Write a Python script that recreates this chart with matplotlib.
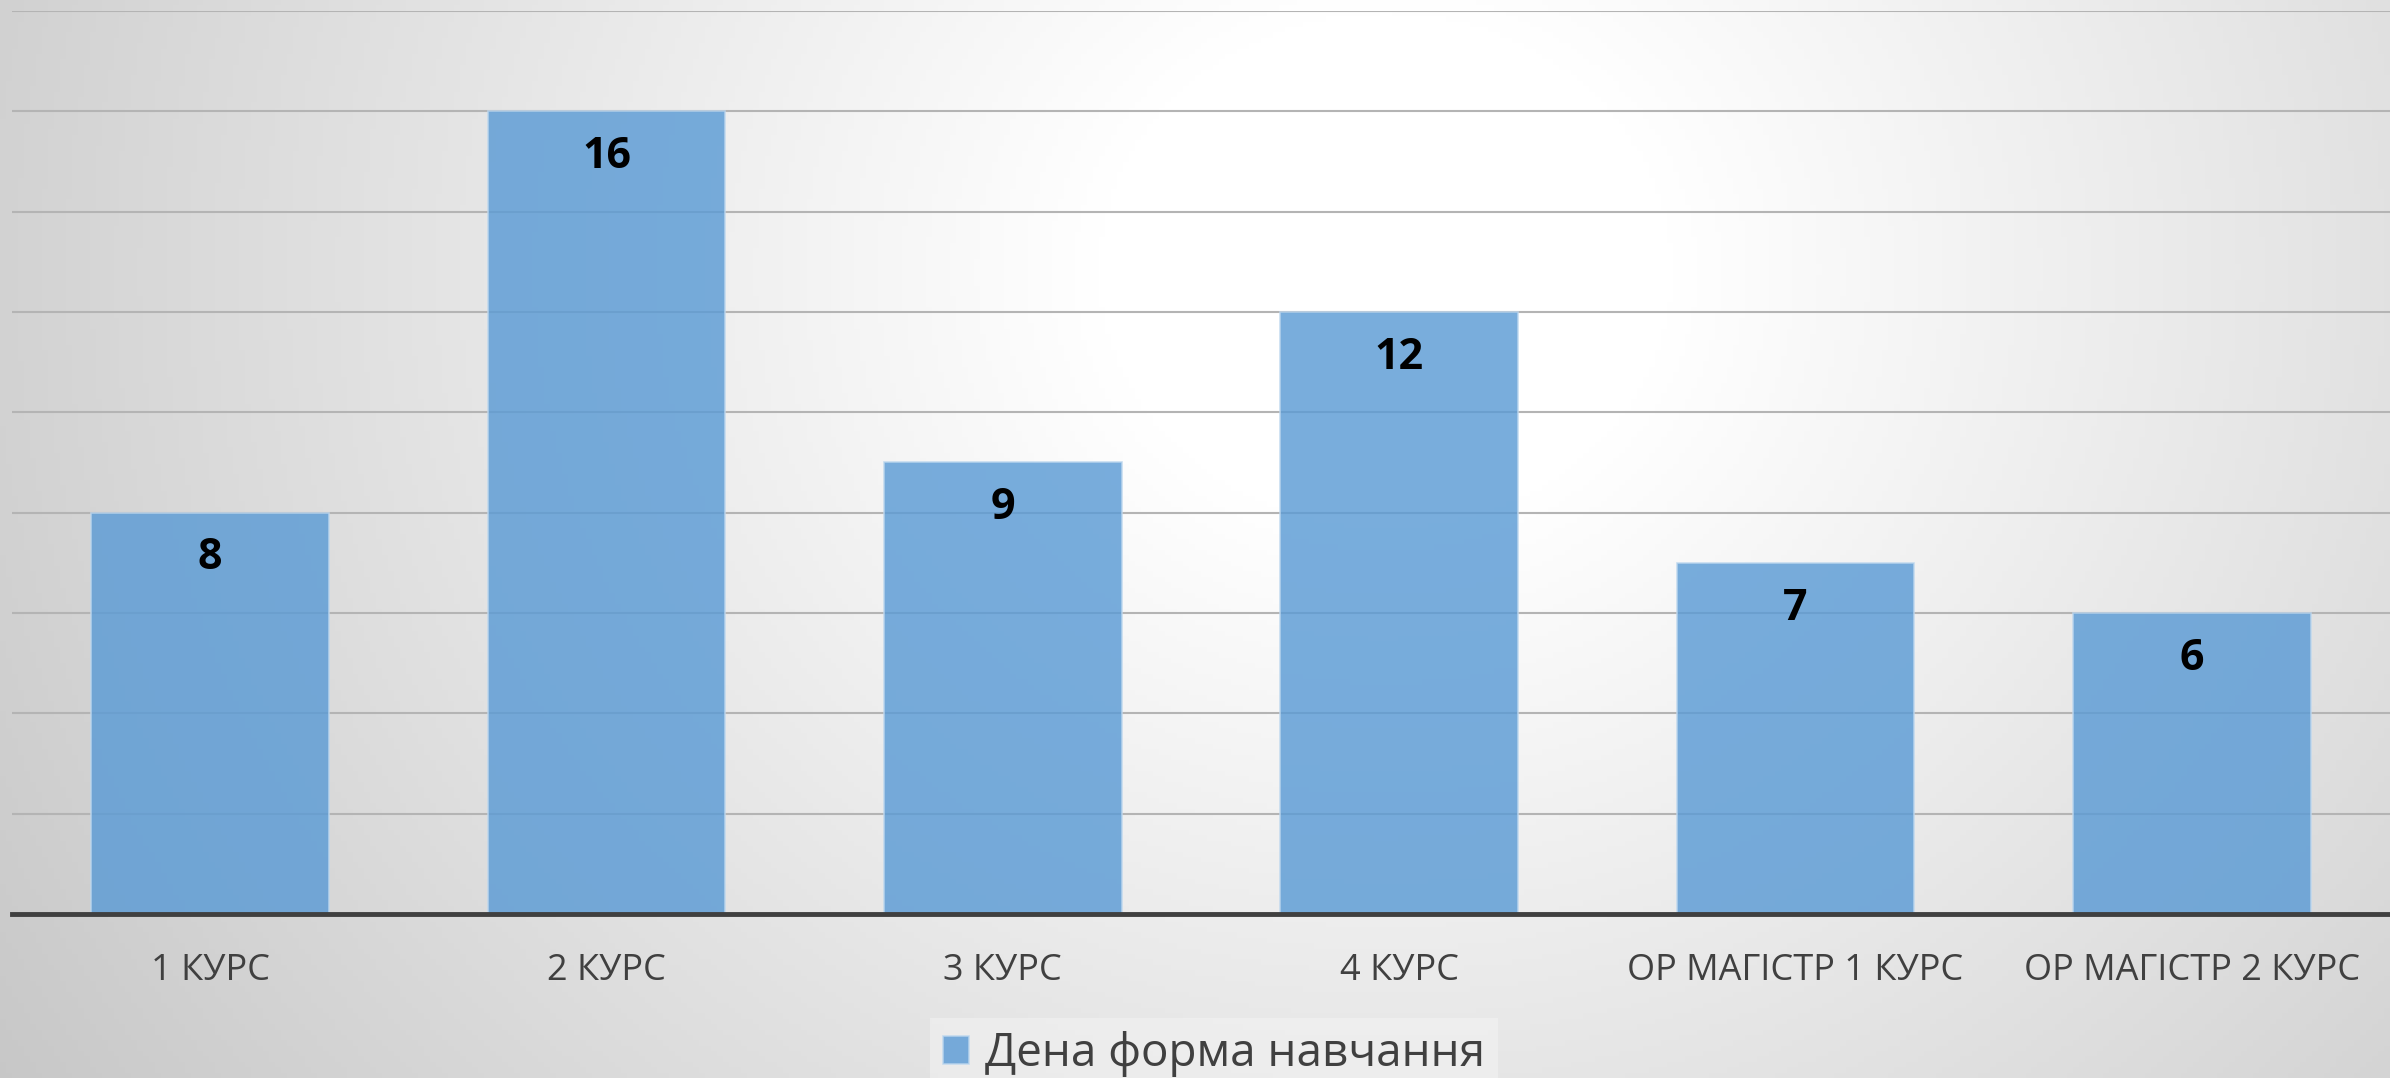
import numpy as np
import matplotlib
matplotlib.use('Agg')
from matplotlib import pyplot as plt

plt.rcParams['font.family'] = ['Open Sans', 'DejaVu Sans']

courses = ['1 КУРС', '2 КУРС', '3 КУРС', '4 КУРС', 'ОР МАГІСТР 1 КУРС', 'ОР МАГІСТР 2 КУРС']
students = [8, 16, 9, 12, 7, 6]
series_name = 'Дена форма навчання'

fig = plt.figure(figsize=(23.9, 10.78), dpi=100)

# radial grey-white background
bg = fig.add_axes([0, 0, 1, 1], zorder=-10)
gx, gy = np.meshgrid(np.linspace(0, 1, 400), np.linspace(0, 1, 200))
cx, cy = 0.58, 0.75
r = np.sqrt((gx - cx) ** 2 + ((gy - cy) * 0.5) ** 2)
shade = np.clip(1.0 - 0.38 * np.clip(r - 0.12, 0, None), 0.7, 1.0)
bg.imshow(np.dstack([shade, shade, shade]), extent=[0, 1, 0, 1], origin='lower', aspect='auto')
bg.axis('off')

ax = fig.add_axes([0.005, 0.152, 0.995, 0.838])
ax.patch.set_alpha(0)
x = np.arange(len(courses))
bars = ax.bar(x, students, width=0.6, color='#5b9bd5', alpha=0.82,
              edgecolor='#bdd7ee', linewidth=1.2, label=series_name, zorder=3)
ax.set_xlim(-0.5, len(courses) - 0.5)
ax.set_ylim(0, 18)
ax.set_yticks(np.arange(0, 19, 2))
ax.yaxis.grid(True, color='#b4b4b4', linewidth=1.5, zorder=0)
ax.set_axisbelow(True)
ax.tick_params(axis='y', left=False, labelleft=False)
ax.tick_params(axis='x', length=0, pad=28, labelsize=26, labelcolor='#404040')
ax.set_xticks(x)
ax.set_xticklabels(courses)
for s in ['top', 'left', 'right']:
    ax.spines[s].set_visible(False)
ax.spines['bottom'].set_color('#404040')
ax.spines['bottom'].set_linewidth(3.5)
ax.spines['bottom'].set_zorder(5)

for b, v in zip(bars, students):
    ax.text(b.get_x() + b.get_width() / 2, v - 0.9, str(v), ha='center', va='center',
            fontsize=31, fontweight='bold', color='black', zorder=6)

leg = fig.legend(loc='lower center', bbox_to_anchor=(0.508, -0.025), fontsize=33, frameon=True,
                 fancybox=False, handlelength=0.55, handleheight=0.55, handletextpad=0.35,
                 borderpad=0.3, borderaxespad=0.3)
leg.get_frame().set_facecolor('#f4f4f4')
leg.get_frame().set_edgecolor('none')
leg.get_frame().set_alpha(0.5)
for t in leg.get_texts():
    t.set_color('#404040')

fig.savefig('out.png', dpi=100)
